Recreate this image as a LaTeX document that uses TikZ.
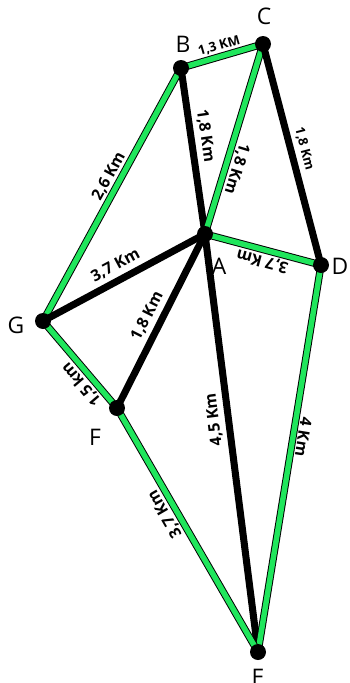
\documentclass[tikz,border=0pt]{standalone}
\usepackage{xcolor}
\usepackage{fontspec}
\setmainfont{Open Sans}
\usepackage{tikz}
\usetikzlibrary{positioning, backgrounds}
\definecolor{roadgreen}{RGB}{32,230,92}

\begin{document}
\begin{tikzpicture}[
    x=0.02cm,
    y=-0.02cm,
    town node/.style={circle,fill=black,inner sep=0pt,minimum size=0.32cm},
    town label/.style={font=\fontsize{13}{15}\selectfont,inner sep=0pt},
    road/.style={draw=black,line width=4pt},
    green road/.style={draw=black,line width=0.55pt,double=roadgreen,double distance=3.1pt},
    dist/.style={font=\fontsize{9}{11}\selectfont\bfseries,sloped,allow upside down,above,inner sep=2.4pt},
    small dist/.style={dist,font=\fontsize{7.4}{9}\selectfont\bfseries}
]
\useasboundingbox (0,0) rectangle (349,683);

\node[town node] (B) at (181,68) {};
\node[town node] (C) at (263,44) {};
\node[town node] (A) at (205,234) {};
\node[town node] (D) at (321,265) {};
\node[town node] (G) at (43,321) {};
\node[town node] (F) at (117,408) {};
\node[town node] (E) at (258,652) {};

\node[town label] (B label) at (183,44) {B};
\node[town label] (C label) at (264,16) {C};
\node[town label] (A label) at (219,266) {A};
\node[town label] (D label) at (340,266) {D};
\node[town label] (G label) at (16,325) {G};
\node[town label] (F label) at (95,437) {F};
\node[town label] (E label) at (258,677) {E};

\begin{scope}[on background layer]
\draw[green road] (B.center) -- node[small dist,pos=0.5] {1,3 KM} (C.center);
\draw[green road] (G.center) -- node[dist,pos=0.55] {2,6 Km} (B.center);
\draw[road] (B.center) -- node[dist,pos=0.42] {1,8 Km} (A.center);
\draw[green road] (C.center) -- node[dist,pos=0.64] {1,8 Km} (A.center);
\draw[road] (C.center) -- node[small dist,pos=0.49] {1,8 Km} (D.center);
\draw[green road] (D.center) -- node[dist,pos=0.48] {3,7 Km} (A.center);
\draw[road] (G.center) -- node[dist,pos=0.49] {3,7 Km} (A.center);
\draw[road] (F.center) -- node[dist,pos=0.49] {1,8 Km} (A.center);
\draw[road] (E.center) -- node[dist,pos=0.56] {4,5 Km} (A.center);
\draw[green road] (D.center) -- node[dist,pos=0.44] {4 Km} (E.center);
\draw[green road] (F.center) -- node[dist,pos=0.36] {1,5 km} (G.center);
\draw[green road] (E.center) -- node[dist,pos=0.59] {3,7 Km} (F.center);
\end{scope}

\end{tikzpicture}
\end{document}
